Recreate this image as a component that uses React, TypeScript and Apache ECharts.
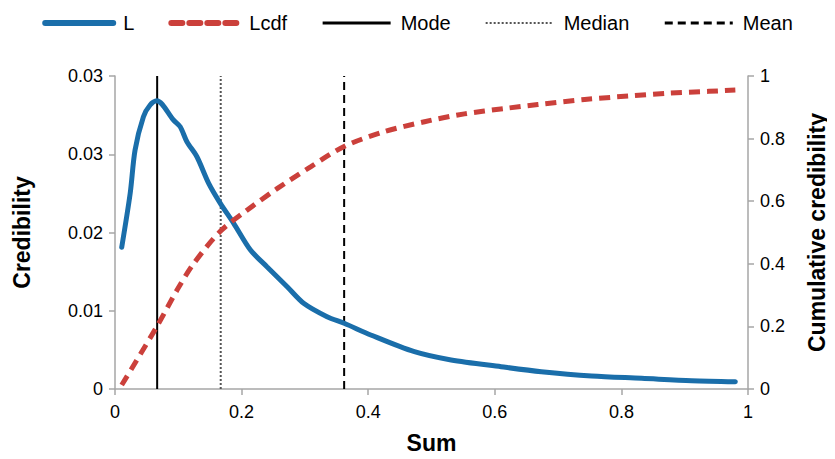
import React, { useEffect, useRef } from "react";
import * as echarts from "echarts";

const lX = [0.0106, 0.024, 0.0317, 0.0449, 0.0555, 0.066, 0.0924, 0.103, 0.1136, 0.1294, 0.148, 0.1664, 0.1875, 0.214, 0.24, 0.272, 0.298, 0.335, 0.362, 0.404, 0.473, 0.531, 0.61, 0.6735, 0.753, 0.832, 0.911, 0.98];
const lY = [0.01539, 0.02126, 0.02596, 0.02958, 0.03085, 0.03132, 0.02922, 0.02849, 0.02686, 0.02523, 0.02234, 0.02017, 0.018, 0.0151, 0.01329, 0.01111, 0.00931, 0.00785, 0.00714, 0.00587, 0.00405, 0.00315, 0.00242, 0.00188, 0.00141, 0.00116, 0.0009, 0.00079];

const cdfX = [0.0106, 0.066, 0.098, 0.124, 0.166, 0.209, 0.256, 0.309, 0.362, 0.425, 0.489, 0.552, 0.615, 0.668, 0.742, 0.811, 0.874, 0.938, 0.98];
const cdfY = [0.0128, 0.199, 0.316, 0.4, 0.503, 0.572, 0.64, 0.71, 0.775, 0.822, 0.854, 0.879, 0.896, 0.909, 0.925, 0.936, 0.945, 0.951, 0.955];

const modeX = 0.0666;
const medianX = 0.167;
const meanX = 0.362;

const leftTickLabels = ["0", "0.01", "0.02", "0.03", "0.03"];
const leftMax = 0.034;
const leftInterval = 0.0085;

const FONT = "Liberation Sans, Arial, sans-serif";
const BLUE = "#1a6eaa";
const RED = "#cb403b";

export default function App() {
  const ref = useRef<HTMLDivElement>(null);
  useEffect(() => {
    if (!ref.current) return;
    const chart = echarts.init(ref.current, null, { renderer: "svg" });
    const axisLine = { show: true, lineStyle: { color: "#a6a6a6", width: 1.5 } };
    const axisTick = { show: true, length: 6, lineStyle: { color: "#a6a6a6", width: 1.5 } };
    const vline = (x: number) => [[x, 0], [x, leftMax]];
    const nameStyle = { fontSize: 23, fontWeight: "bold", color: "#000", fontFamily: FONT };
    const labelStyle = { fontSize: 18, color: "#000", fontFamily: FONT };
    chart.setOption({
      animation: false,
      textStyle: { fontFamily: FONT },
      legend: {
        top: 8,
        left: "center",
        itemWidth: 68,
        itemHeight: 14,
        itemGap: 34,
        itemStyle: { opacity: 0 },
        textStyle: { fontSize: 20, color: "#000", fontFamily: FONT, padding: [0, 0, 0, 5] },
        data: [
          { name: "L", lineStyle: { width: 6, cap: "round" } },
          { name: "Lcdf", lineStyle: { width: 6, cap: "round" } },
          { name: "Mode", lineStyle: { width: 3 } },
          { name: "Median", lineStyle: { width: 2 } },
          { name: "Mean", lineStyle: { width: 3 } },
        ],
      },
      grid: { left: 115, right: 87, top: 76, bottom: 70, outerBoundsMode: "none", containLabel: false },
      xAxis: {
        type: "value",
        min: 0,
        max: 1,
        interval: 0.2,
        name: "Sum",
        nameLocation: "middle",
        nameGap: 42,
        nameTextStyle: nameStyle,
        axisLine,
        axisTick,
        splitLine: { show: false },
        axisLabel: { ...labelStyle, margin: 14 },
      },
      yAxis: [
        {
          type: "value",
          min: 0,
          max: leftMax,
          interval: leftInterval,
          name: "Credibility",
          nameLocation: "middle",
          nameGap: 82,
          nameTextStyle: nameStyle,
          axisLine,
          axisTick,
          splitLine: { show: false },
          axisLabel: {
            ...labelStyle,
            margin: 12,
            formatter: (_v: number, i: number) => leftTickLabels[i] ?? "",
          },
        },
        {
          type: "value",
          min: 0,
          max: 1,
          interval: 0.2,
          position: "right",
          name: "Cumulative credibility",
          nameLocation: "middle",
          nameGap: 57,
          nameRotate: 90,
          nameTextStyle: nameStyle,
          axisLine,
          axisTick,
          splitLine: { show: false },
          axisLabel: { ...labelStyle, margin: 12 },
        },
      ],
      series: [
        {
          name: "Mode",
          type: "line",
          yAxisIndex: 0,
          symbol: "none",
          data: vline(modeX),
          lineStyle: { color: "#000", width: 2 },
          itemStyle: { color: "#000" },
        },
        {
          name: "Median",
          type: "line",
          yAxisIndex: 0,
          symbol: "none",
          data: vline(medianX),
          lineStyle: { color: "#555", width: 2, type: [2, 2] },
          itemStyle: { color: "#555" },
        },
        {
          name: "Mean",
          type: "line",
          yAxisIndex: 0,
          symbol: "none",
          data: vline(meanX),
          lineStyle: { color: "#000", width: 2, type: [8, 5] },
          itemStyle: { color: "#000" },
        },
        {
          name: "L",
          type: "line",
          yAxisIndex: 0,
          symbol: "none",
          smooth: 0.3,
          data: lX.map((x, i) => [x, lY[i]]),
          lineStyle: { color: BLUE, width: 5, cap: "round" },
          itemStyle: { color: BLUE },
        },
        {
          name: "Lcdf",
          type: "line",
          yAxisIndex: 1,
          symbol: "none",
          smooth: 0.3,
          data: cdfX.map((x, i) => [x, cdfY[i]]),
          lineStyle: { color: RED, width: 5, type: [11, 7] },
          itemStyle: { color: RED },
        },
      ],
    });
    return () => chart.dispose();
  }, []);
  return <div ref={ref} style={{ width: 835, height: 459, margin: -8 }} />;
}
